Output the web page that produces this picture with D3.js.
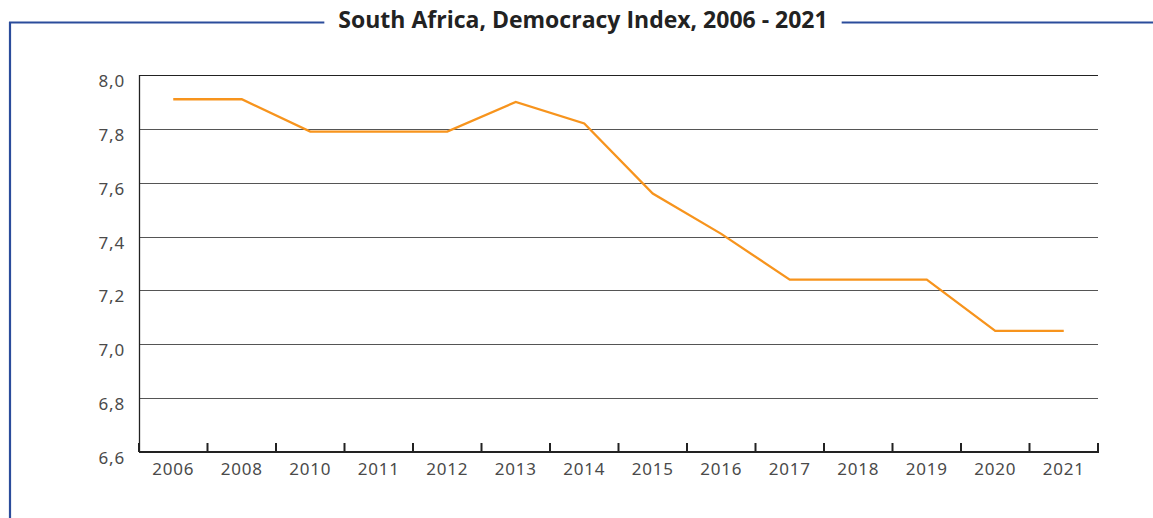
<!DOCTYPE html>
<html>
<head>
<meta charset="utf-8">
<script src="https://cdn.jsdelivr.net/npm/d3@7"></script>
<style>
  body { margin: 0; background: #fff; }
  svg { display: block; }
</style>
</head>
<body>
<script>
const years = ["2006", "2008", "2010", "2011", "2012", "2013", "2014", "2015", "2016", "2017", "2018", "2019", "2020", "2021"];
const scores = [7.91, 7.91, 7.79, 7.79, 7.79, 7.90, 7.82, 7.56, 7.41, 7.24, 7.24, 7.24, 7.05, 7.05];
const yTicks = [6.6, 6.8, 7.0, 7.2, 7.4, 7.6, 7.8, 8.0];
const title = "South Africa, Democracy Index, 2006 - 2021";

const width = 1153, height = 518;
const margin = { left: 139, right: 55, top: 75, bottom: 66 };

const svg = d3.select("body").append("svg")
  .attr("width", width)
  .attr("height", height);

// blue frame with the title cut into the top edge
const blue = "#2b4c9b";
svg.append("line")
  .attr("x1", 10).attr("x2", 10)
  .attr("y1", 22).attr("y2", height)
  .attr("stroke", blue).attr("stroke-width", 2.2);

const titleText = svg.append("text")
  .attr("x", 583)
  .attr("y", 28)
  .attr("text-anchor", "middle")
  .style("font-family", "'Open Sans', sans-serif")
  .style("font-weight", "bold")
  .style("font-size", "23px")
  .attr("fill", "#222")
  .text(title);

const tb = titleText.node().getBBox();
svg.append("line")
  .attr("x1", 9).attr("x2", tb.x - 14)
  .attr("y1", 22.5).attr("y2", 22.5)
  .attr("stroke", blue).attr("stroke-width", 2.2);
svg.append("line")
  .attr("x1", tb.x + tb.width + 14).attr("x2", width)
  .attr("y1", 22.5).attr("y2", 22.5)
  .attr("stroke", blue).attr("stroke-width", 2.2);

const x = d3.scaleBand()
  .domain(years)
  .range([margin.left, width - margin.right]);

const y = d3.scaleLinear()
  .domain([6.6, 8.0])
  .range([height - margin.bottom, margin.top]);

const fmt = d => d3.format(".1f")(d).replace(".", ",");

const labelFont = sel => sel
  .style("font-family", "'Noto Sans', sans-serif")
  .style("font-size", "17px")
  .style("letter-spacing", "0.8px")
  .attr("fill", "#4a4a4a");

// horizontal grid lines
svg.append("g")
  .selectAll("line")
  .data(yTicks.filter(d => d > 6.6))
  .join("line")
  .attr("x1", margin.left)
  .attr("x2", width - margin.right)
  .attr("y1", d => Math.round(y(d)) + 0.5)
  .attr("y2", d => Math.round(y(d)) + 0.5)
  .attr("stroke", d => d === 8.0 ? "#222" : "#555")
  .attr("stroke-width", 1.1);

// y axis line and labels
svg.append("line")
  .attr("x1", margin.left + 0.5).attr("x2", margin.left + 0.5)
  .attr("y1", y(8.0)).attr("y2", y(6.6))
  .attr("stroke", "#222").attr("stroke-width", 1.3);

svg.append("g")
  .selectAll("text")
  .data(yTicks)
  .join("text")
  .attr("x", 125)
  .attr("y", d => y(d) + 6)
  .attr("dy", "0.35em")
  .attr("text-anchor", "end")
  .call(labelFont)
  .text(fmt);

// bottom axis with upward ticks on band edges
const xAxis = d3.axisBottom(x).tickSize(0).tickPadding(11);
const gx = svg.append("g")
  .attr("transform", `translate(0,${y(6.6)})`)
  .call(xAxis);
gx.select(".domain").remove();
gx.selectAll("text").call(labelFont);

svg.append("line")
  .attr("x1", margin.left).attr("x2", width - margin.right + 1)
  .attr("y1", y(6.6)).attr("y2", y(6.6))
  .attr("stroke", "#222").attr("stroke-width", 2.2);

const edges = years.map(d => x(d)).concat([x(years[years.length - 1]) + x.bandwidth()]);
svg.append("g")
  .selectAll("line")
  .data(edges)
  .join("line")
  .attr("x1", d => d).attr("x2", d => d)
  .attr("y1", y(6.6) - 9).attr("y2", y(6.6))
  .attr("stroke", "#222").attr("stroke-width", 2);

// the index line
const line = d3.line()
  .x((d, i) => x(years[i]) + x.bandwidth() / 2)
  .y(d => y(d));

svg.append("path")
  .datum(scores)
  .attr("d", line)
  .attr("fill", "none")
  .attr("stroke", "#f7941d")
  .attr("stroke-width", 2.3);
</script>
</body>
</html>
